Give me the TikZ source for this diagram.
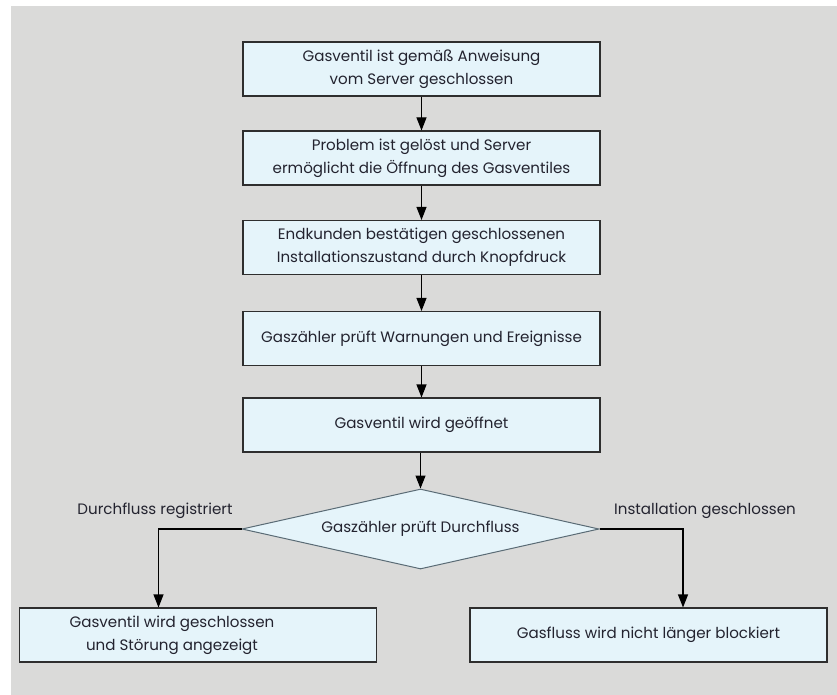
\documentclass[tikz,border=0pt]{standalone}
\usepackage{fontspec}
\setmainfont{Poppins}
\usetikzlibrary{shapes.geometric,arrows.meta}
\definecolor{bggrey}{HTML}{DADAD9}
\definecolor{boxfill}{HTML}{E5F4FA}
\definecolor{boxline}{HTML}{2E2E2E}
\definecolor{diaLine}{HTML}{5A6B75}
\definecolor{txt}{HTML}{23232F}
\tikzset{
  x=1pt,y=-1pt,
  stepbox/.style={draw=boxline,line width=1.1pt,fill=boxfill,minimum width=357pt,minimum height=54pt,inner sep=0pt,text=txt,align=center,font=\fontsize{15.1}{23}\selectfont},
  decision/.style={diamond,draw=diaLine,line width=1pt,fill=boxfill,aspect=4.46,minimum width=357pt,minimum height=80pt,inner sep=0pt,text=txt,font=\fontsize{15.1}{23}\selectfont},
  lbl/.style={text=txt,font=\fontsize{15.1}{23}\selectfont,inner sep=0pt},
  flow/.style={draw=black,line width=1.1pt,-{Triangle[length=13pt,width=10pt]}}
}
\begin{document}
\begin{tikzpicture}
\useasboundingbox (0,0) rectangle (837,695);
\fill[bggrey] (11,6) rectangle (837,695);
\node[stepbox] (b1) at (421.5,69) {Gasventil ist gemäß Anweisung\\vom Server geschlossen};
\node[stepbox] (b2) at (421.5,158) {Problem ist gelöst und Server\\ermöglicht die Öffnung des Gasventiles};
\node[stepbox] (b3) at (421.5,247.5) {Endkunden bestätigen geschlossenen\\Installationszustand durch Knopfdruck};
\node[stepbox] (b4) at (421.5,338.5) {Gaszähler prüft Warnungen und Ereignisse};
\node[stepbox] (b5) at (421.5,425) {Gasventil wird geöffnet};
\node[decision] (d) at (420.5,529) {Gaszähler prüft Durchfluss};
\node[stepbox] (bl) at (198,635) {};
\node[lbl,align=center] (blt) at (172,635) {Gasventil wird geschlossen\\und Störung angezeigt};
\node[stepbox] (br) at (648.5,635) {Gasfluss wird nicht länger blockiert};
\coordinate (cl) at (158.5,529);
\coordinate (cr) at (683,529);
\node[lbl] (ll) at (155,511) {Durchfluss registriert};
\node[lbl] (lr) at (705,511) {Installation geschlossen};
\draw[flow] (b1) -- (b2);
\draw[flow] (b2) -- (b3);
\draw[flow] (b3) -- (b4);
\draw[flow] (b4) -- (b5);
\draw[flow] (b5.south -| d.north) -- (d.north);
\draw[flow] (d.west) -- (cl) -- (cl |- bl.north);
\draw[flow] (d.east) -- (cr) -- (cr |- br.north);
\end{tikzpicture}
\end{document}
